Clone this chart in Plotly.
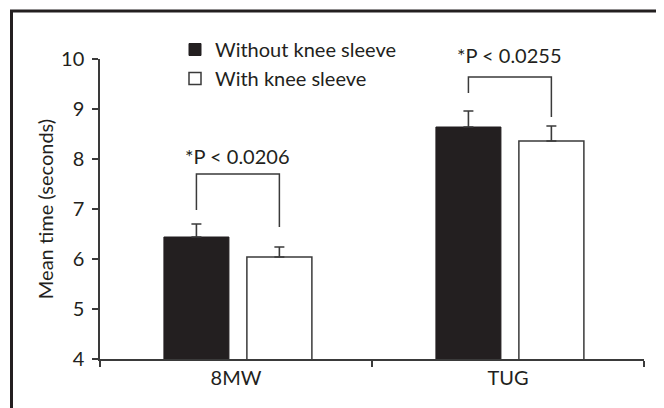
import plotly.graph_objects as go

categories = ["8MW", "TUG"]
series_names = ["Without knee sleeve", "With knee sleeve"]
without_sleeve = [6.44, 8.64]
without_sleeve_err = [0.26, 0.32]
with_sleeve = [6.04, 8.36]
with_sleeve_err = [0.20, 0.30]
p_labels = ["*P < 0.0206", "*P < 0.0255"]
bracket_top = [7.70, 9.64]
bracket_left_bottom = [6.98, 9.32]
bracket_right_bottom = [6.64, 8.84]
p_label_y = [8.06, 10.08]
y_ticks = [4, 5, 6, 7, 8, 9, 10]

INK = "#231f20"
LINE = "#3a3a3a"
FONT = "Lato"
FS = 20
xpos = list(range(len(categories)))
YMIN, YMAX = 4, 10

bar_w = 0.239
off_black = -0.265
off_white = 0.040

fig = go.Figure()
fig.add_trace(go.Bar(
    x=xpos, y=without_sleeve, name=series_names[0], width=bar_w, offset=off_black,
    marker=dict(color=INK, line=dict(color=INK, width=1)),
    error_y=dict(type="data", symmetric=False, array=without_sleeve_err,
                 arrayminus=[0] * len(categories), color=LINE, thickness=1.6, width=5),
    legendgroup="a",
))
fig.add_trace(go.Bar(
    x=xpos, y=with_sleeve, name=series_names[1], width=bar_w, offset=off_white,
    marker=dict(color="white", line=dict(color=LINE, width=1.5)),
    error_y=dict(type="data", symmetric=False, array=with_sleeve_err,
                 arrayminus=[0] * len(categories), color=LINE, thickness=1.6, width=5),
    legendgroup="b",
))

# significance brackets
for i in range(len(categories)):
    xl = xpos[i] + off_black + bar_w / 2
    xr = xpos[i] + off_white + bar_w / 2
    fig.add_trace(go.Scatter(
        x=[xl, xl, xr, xr],
        y=[bracket_left_bottom[i], bracket_top[i], bracket_top[i], bracket_right_bottom[i]],
        mode="lines", line=dict(color=LINE, width=1.5),
        showlegend=False, hoverinfo="skip",
    ))
    fig.add_annotation(
        x=(xl + xr) / 2, xref="x",
        y=(p_label_y[i] - YMIN) / (YMAX - YMIN), yref="paper",
        text=p_labels[i], showarrow=False,
        font=dict(family=FONT, size=FS, color=INK), xanchor="center", yanchor="middle",
    )

# page body has an 8px margin; figure is sized so the window shows it like the reference
OFF = 8
W, H = 664 - OFF, 408 - OFF
ml, mt = 100 - OFF, 59 - OFF
mr = W - (644 - OFF)
mb = H - (359 - OFF)
pw, ph = W - ml - mr, H - mt - mb


def px_x(v):
    return (v - OFF - ml) / pw


def px_y(v):
    return (H - mb - (v - OFF)) / ph


fig.add_shape(
    type="rect", xref="paper", yref="paper",
    x0=px_x(11.5), x1=px_x(659.5), y0=px_y(420), y1=px_y(11),
    line=dict(color=INK, width=3), fillcolor="rgba(0,0,0,0)", layer="below",
)

fig.update_layout(
    width=W, height=H,
    margin=dict(l=ml, r=mr, t=mt, b=mb, pad=0),
    paper_bgcolor="white", plot_bgcolor="white",
    font=dict(family=FONT, size=FS, color=INK),
    barmode="overlay",
    showlegend=True,
    legend=dict(
        x=px_x(175), y=px_y(30), xanchor="left", yanchor="top",
        bgcolor="rgba(0,0,0,0)", font=dict(family=FONT, size=FS, color=INK),
        itemwidth=30, tracegroupgap=7, traceorder="normal",
    ),
    xaxis=dict(
        range=[-0.5, len(categories) - 0.5], tickmode="array", tickvals=xpos,
        ticktext=categories, ticks="", showgrid=False, zeroline=False,
        showline=True, linecolor=LINE, linewidth=1.5,
        tickfont=dict(family=FONT, size=FS, color=INK),
        minor=dict(ticks="outside", tick0=-0.5, dtick=1, ticklen=6, tickcolor=LINE,
                   tickwidth=1.5, showgrid=False),
    ),
    yaxis=dict(
        range=[YMIN, YMAX], tickmode="array", tickvals=y_ticks, ticks="outside", ticklen=6,
        tickcolor=LINE, tickwidth=1.5, showgrid=False, zeroline=False,
        showline=True, linecolor=LINE, linewidth=1.5, ticklabelstandoff=4,
        tickfont=dict(family=FONT, size=FS, color=INK),
        title=dict(text="Mean time (seconds)", standoff=2,
                   font=dict(family=FONT, size=FS, color=INK)),
    ),
)

fig.write_html("out.html")
